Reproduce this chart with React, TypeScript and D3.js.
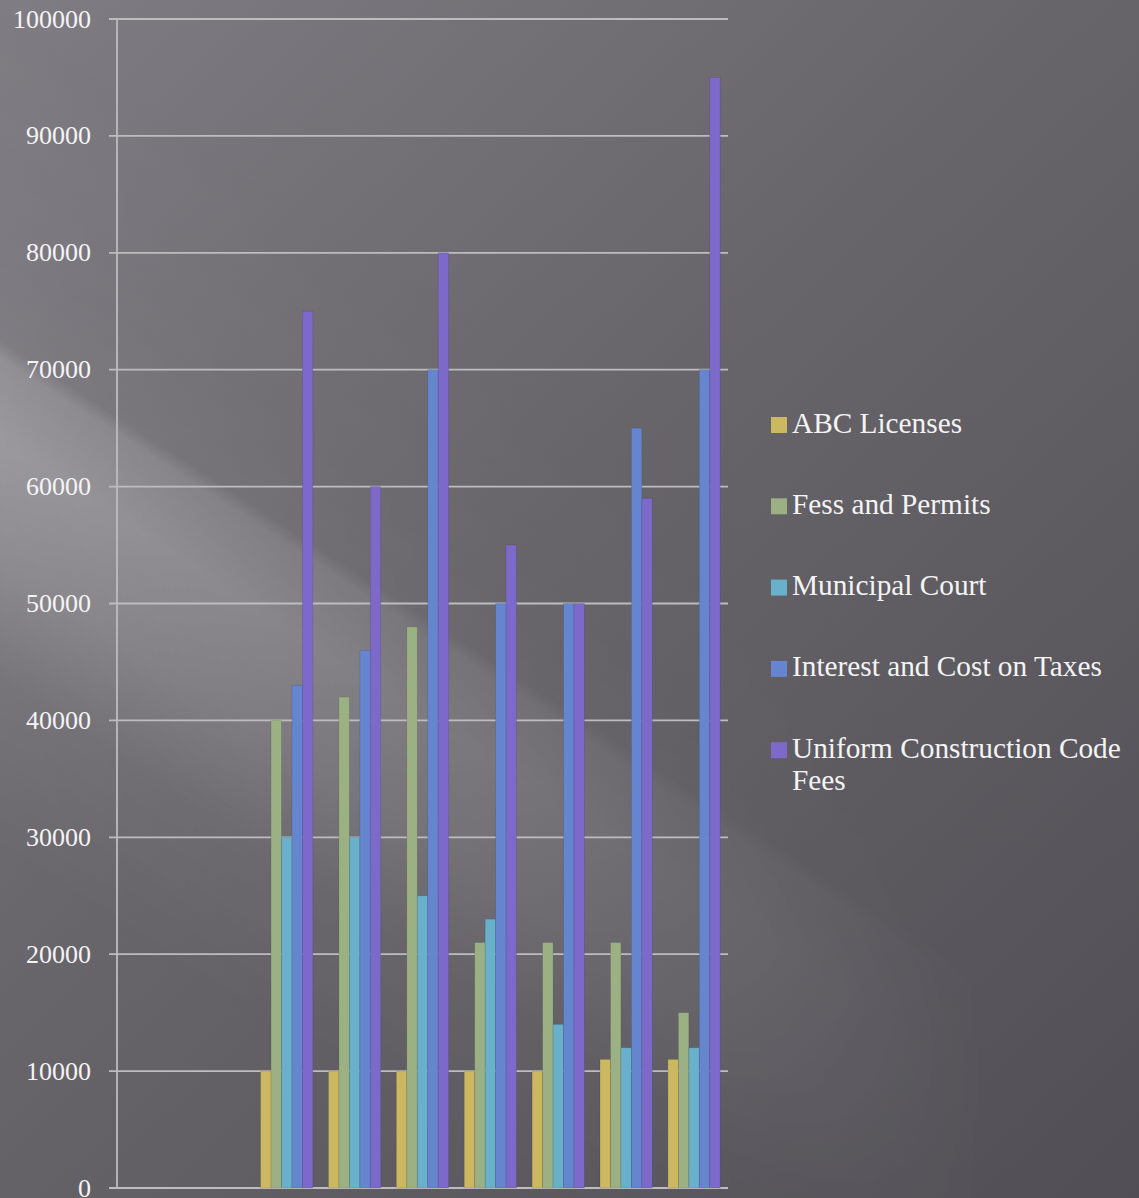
import * as d3 from "d3";

const width = 1139;
const height = 1198;

// no axis labels are shown on the x axis, only 9 slots (first two are empty)
const periods = ["P1", "P2", "P3", "P4", "P5", "P6", "P7", "P8", "P9"];

const seriesNames = [
  "ABC Licenses",
  "Fess and Permits",
  "Municipal Court",
  "Interest and Cost on Taxes",
  "Uniform Construction Code Fees",
];

const abcLicenses = [null, null, 10000, 10000, 10000, 10000, 10000, 11000, 11000];
const feesPermits = [null, null, 40000, 42000, 48000, 21000, 21000, 21000, 15000];
const municipalCourt = [null, null, 30000, 30000, 25000, 23000, 14000, 12000, 12000];
const interestCost = [null, null, 43000, 46000, 70000, 50000, 50000, 65000, 70000];
const uccFees = [null, null, 75000, 60000, 80000, 55000, 50000, 59000, 95000];

const yTicks = [0, 10000, 20000, 30000, 40000, 50000, 60000, 70000, 80000, 90000, 100000];

const colors = ["#ccb860", "#9cb183", "#69b0ca", "#6585cf", "#7d69c9"];

const seriesValues: (number | null)[][] = [abcLicenses, feesPermits, municipalCourt, interestCost, uccFees];

const margin = { left: 117, right: 411, top: 19, bottom: 10 };
const fontFamily = "'Liberation Serif', 'Times New Roman', serif";

export default function App() {
  const x0 = d3
    .scaleBand<string>()
    .domain(periods)
    .range([margin.left, width - margin.right])
    .paddingInner(0.23)
    .paddingOuter(0.115);

  const x1 = d3.scaleBand<string>().domain(seriesNames).range([0, x0.bandwidth()]);

  const y = d3
    .scaleLinear()
    .domain([0, 100000])
    .range([height - margin.bottom, margin.top]);

  const bars = periods.flatMap((p, i) =>
    seriesNames.map((s, j) => {
      const v = seriesValues[j][i];
      if (v == null) return null;
      return (
        <rect
          key={p + s}
          x={(x0(p) ?? 0) + (x1(s) ?? 0)}
          y={y(v)}
          width={x1.bandwidth()}
          height={y(0) - y(v)}
          fill={colors[j]}
          stroke="rgba(0,0,0,0.12)"
          strokeWidth={0.8}
        />
      );
    })
  );

  const legendX = 771;
  const legendY = 425;
  const legendStep = 81.3;

  return (
    <svg
      width={width}
      height={height}
      style={{ position: "absolute", left: 0, top: 0, display: "block" }}
    >
      <defs>
        <linearGradient id="bg" gradientUnits="userSpaceOnUse" x1={0} y1={0} x2={width} y2={height}>
          <stop offset="0" stopColor="#7f7d83" />
          <stop offset="0.45" stopColor="#67646a" />
          <stop offset="1" stopColor="#514f55" />
        </linearGradient>
        {/* diagonal light streak */}
        <linearGradient id="streak" gradientUnits="userSpaceOnUse" x1={0} y1={0} x2={-545} y2={838}>
          <stop offset="0" stopColor="#fff" stopOpacity={0} />
          <stop offset="0.2" stopColor="#fff" stopOpacity={0.03} />
          <stop offset="0.285" stopColor="#fff" stopOpacity={0.06} />
          <stop offset="0.3" stopColor="#fff" stopOpacity={0.2} />
          <stop offset="0.37" stopColor="#fff" stopOpacity={0.28} />
          <stop offset="0.47" stopColor="#fff" stopOpacity={0.2} />
          <stop offset="0.57" stopColor="#fff" stopOpacity={0.06} />
          <stop offset="0.72" stopColor="#fff" stopOpacity={0} />
        </linearGradient>
        <linearGradient id="fade" gradientUnits="userSpaceOnUse" x1={0} y1={0} x2={1000} y2={0}>
          <stop offset="0" stopColor="#fff" stopOpacity={1} />
          <stop offset="0.5" stopColor="#fff" stopOpacity={0.5} />
          <stop offset="1" stopColor="#fff" stopOpacity={0} />
        </linearGradient>
        <mask id="fadeMask">
          <rect width={width} height={height} fill="url(#fade)" />
        </mask>
      </defs>

      <rect width={width} height={height} fill="url(#bg)" />
      <rect width={width} height={height} fill="url(#streak)" mask="url(#fadeMask)" />

      {/* grid lines */}
      {yTicks.map((t) => (
        <line
          key={t}
          x1={margin.left - 8}
          x2={width - margin.right}
          y1={y(t)}
          y2={y(t)}
          stroke="#bdbcbe"
          strokeWidth={1.8}
        />
      ))}
      <line
        x1={margin.left}
        x2={margin.left}
        y1={y(100000)}
        y2={y(0)}
        stroke="#bdbcbe"
        strokeWidth={1.8}
      />

      {bars}

      {/* y labels */}
      {yTicks.map((t) => (
        <text
          key={"l" + t}
          x={91}
          y={y(t) + 8.5}
          textAnchor="end"
          fontFamily={fontFamily}
          fontSize={26}
          fill="#f4f4f4"
        >
          {t}
        </text>
      ))}

      {/* legend */}
      {seriesNames.map((s, i) => {
        const cy = legendY + i * legendStep;
        const lines = s === "Uniform Construction Code Fees" ? ["Uniform Construction Code", "Fees"] : [s];
        return (
          <g key={s}>
            <rect x={legendX} y={cy - 8} width={16} height={16} fill={colors[i]} />
            <text x={792} y={cy + 7.5} fontFamily={fontFamily} fontSize={29.3} fill="#f4f4f4">
              {lines.map((ln, k) => (
                <tspan key={k} x={792} dy={k === 0 ? 0 : 32}>
                  {ln}
                </tspan>
              ))}
            </text>
          </g>
        );
      })}
    </svg>
  );
}
